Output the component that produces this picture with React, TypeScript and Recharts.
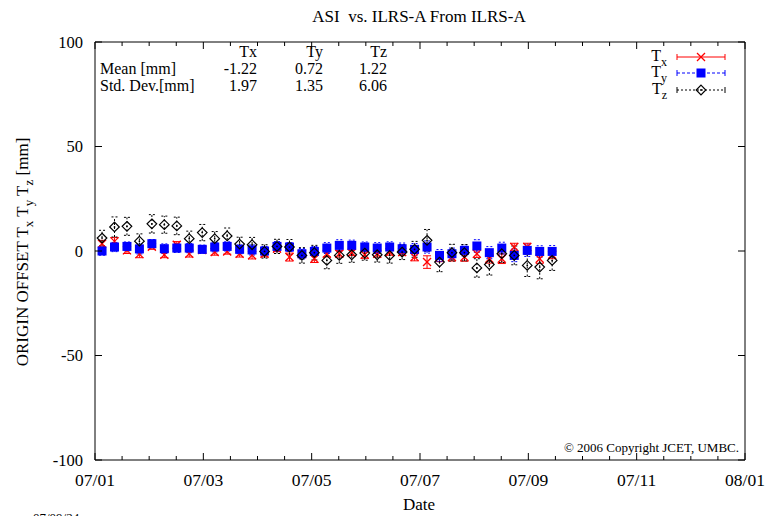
import React from 'react';
import {
    ComposedChart,
    Scatter,
    XAxis,
    YAxis,
    ErrorBar,
    ReferenceArea,
} from 'recharts';

const FONT = '"Liberation Serif", "Times New Roman", serif';

// solution epochs, days after 07/01 00:00
const days = [
    0.13, 0.36, 0.59, 0.82, 1.05, 1.28, 1.51, 1.74, 1.98, 2.21, 2.44, 2.67, 2.9,
    3.13, 3.36, 3.59, 3.82, 4.05, 4.28, 4.51, 4.74, 4.98, 5.21, 5.44, 5.67, 5.9,
    6.13, 6.36, 6.59, 6.82, 7.05, 7.28, 7.51, 7.74, 7.98, 8.21, 8.44,
];

const txValues = [
    3.5, 4.6, 0.3, -1.5, 2.0, -1.8, 3.0, -1.3, 0.5, -0.5, -0.2, -1.3, -2.0,
    -1.3, 1.1, -2.9, -1.5, -3.7, -1.3, -1.3, -0.8, -1.8, -1.3, -0.5, -0.5, -2.9,
    -5.3, -2.9, -2.9, -2.9, -1.3, -3.7, -3.7, 1.9, 1.9, -3.7, -1.8,
];
const txErrors = [
    1.6, 1.8, 1.5, 1.7, 1.2, 1.4, 1.5, 1.6, 1.4, 1.5, 1.3, 1.6, 1.8,
    1.5, 1.4, 1.9, 1.6, 1.8, 1.5, 1.6, 1.4, 1.7, 1.6, 1.5, 1.7, 1.8,
    3.0, 2.2, 1.9, 2.0, 1.8, 2.1, 2.3, 1.8, 1.8, 2.2, 1.9,
];

const tyValues = [
    0.0, 1.9, 2.2, 1.0, 3.5, 1.1, 1.4, 1.4, 0.8, 1.9, 2.2, 0.8, 0.5,
    0.0, 2.2, 1.9, -1.3, -0.2, 1.4, 2.7, 2.7, 1.9, 1.4, 1.9, 1.1, 0.8,
    1.9, -2.1, -1.3, 0.3, 2.4, -0.8, 1.4, -2.1, 0.3, -0.2, -0.2,
];
const tyErrors = [
    2.0, 2.2, 2.1, 2.4, 2.0, 2.3, 2.1, 2.2, 2.0, 2.3, 2.2, 2.1, 2.4,
    2.2, 2.3, 2.1, 2.5, 2.4, 2.6, 2.7, 2.5, 2.4, 2.6, 2.5, 2.7, 2.8,
    2.9, 2.8, 2.7, 2.6, 3.0, 2.9, 2.8, 3.0, 2.9, 2.7, 2.8,
];

const tzValues = [
    6.2, 11.5, 11.8, 4.7, 13.0, 12.6, 12.0, 5.9, 8.8, 5.9, 7.2, 3.3, 3.0,
    -0.2, 2.2, 1.9, -2.1, -0.8, -4.5, -2.1, -1.8, -1.0, -1.8, -2.1, -0.5, 0.8,
    5.1, -5.3, -0.8, -0.8, -8.1, -6.5, -1.3, -2.1, -6.9, -7.7, -4.5,
];
const tzErrors = [
    3.7, 4.8, 4.3, 3.5, 4.4, 4.1, 4.2, 3.6, 3.9, 3.4, 3.8, 3.3, 3.5,
    3.2, 3.4, 3.6, 3.7, 3.5, 4.0, 3.8, 3.6, 3.4, 3.5, 3.7, 3.6, 3.8,
    5.2, 4.6, 4.0, 3.9, 4.4, 5.0, 4.2, 4.5, 5.3, 5.6, 4.8,
];

const xTicks = [
    0, 0.5, 1, 1.5, 2, 2.5, 3, 3.5, 4, 4.5, 5, 5.5, 6, 6.5, 7, 7.5, 8, 8.5, 9,
    9.5, 10, 10.5, 11, 11.5, 12,
];
const majorDays = [0, 2, 4, 6, 8, 10, 12];
const majorLabels = ['07/01', '07/03', '07/05', '07/07', '07/09', '07/11', '08/01'];
const yTicks = [-100, -50, 0, 50, 100];

const statHeaders = ['Tx', 'Ty', 'Tz'];
const meanValues = ['-1.22', '0.72', '1.22'];
const stdValues = ['1.97', '1.35', '6.06'];

const WIDTH = 772;
const HEIGHT = 516;
const PLOT_LEFT = 95;
const PLOT_RIGHT = 745;
const PLOT_TOP = 42;
const PLOT_BOTTOM = 460;

const toPoints = (vals: number[], errs: number[]) =>
    days.map((d, i) => ({ x: d, y: vals[i], err: errs[i] }));

const txPoints = toPoints(txValues, txErrors);
const tyPoints = toPoints(tyValues, tyErrors);
const tzPoints = toPoints(tzValues, tzErrors);

const drawCross = (cx: number, cy: number) => (
    <g>
        <line x1={cx - 4} y1={cy - 4} x2={cx + 4} y2={cy + 4} stroke="#ff0000" strokeWidth={1.3} />
        <line x1={cx - 4} y1={cy + 4} x2={cx + 4} y2={cy - 4} stroke="#ff0000" strokeWidth={1.3} />
    </g>
);

const drawSquare = (cx: number, cy: number) => (
    <rect x={cx - 4.5} y={cy - 4.5} width={9} height={9} fill="#0000ff" />
);

const drawDiamond = (cx: number, cy: number) => (
    <g>
        <path
            d={`M${cx},${cy - 4.8}L${cx + 4.8},${cy}L${cx},${cy + 4.8}L${cx - 4.8},${cy}Z`}
            fill="none"
            stroke="#000"
            strokeWidth={1.2}
        />
        <circle cx={cx} cy={cy} r={0.9} fill="#000" />
    </g>
);

const XTick = (props: any) => {
    const { x, y, payload } = props;
    const idx = majorDays.indexOf(payload.value);
    const len = idx >= 0 ? 7 : 4;
    return (
        <g>
            <line x1={x} y1={y} x2={x} y2={y - len} stroke="#000" />
            <line x1={x} y1={PLOT_TOP} x2={x} y2={PLOT_TOP + len} stroke="#000" />
            {idx >= 0 && (
                <text x={x} y={y + 26} textAnchor="middle" fontFamily={FONT} fontSize={17.5} fill="#000">
                    {majorLabels[idx]}
                </text>
            )}
        </g>
    );
};

const YTick = (props: any) => {
    const { x, y, payload } = props;
    return (
        <g>
            <line x1={x} y1={y} x2={x + 7} y2={y} stroke="#000" />
            <line x1={PLOT_RIGHT} y1={y} x2={PLOT_RIGHT - 7} y2={y} stroke="#000" />
            <text x={x - 12} y={y + 5.5} textAnchor="end" fontFamily={FONT} fontSize={16.5} fill="#000">
                {payload.value}
            </text>
        </g>
    );
};

const LegendRow = (props: { y: number; sub: string; color: string; dash?: string; marker: (cx: number, cy: number) => React.ReactNode }) => {
    const { y, sub, color, dash, marker } = props;
    return (
        <g>
            <text x={667} y={y + 4} textAnchor="end" fontFamily={FONT} fontSize={16} fill="#000">
                T<tspan fontSize={12} dy={5}>{sub}</tspan>
            </text>
            <line x1={677} y1={y} x2={725} y2={y} stroke={color} strokeDasharray={dash} />
            <line x1={677} y1={y - 3} x2={677} y2={y + 3} stroke={color} />
            <line x1={725} y1={y - 3} x2={725} y2={y + 3} stroke={color} />
            {marker(701, y)}
        </g>
    );
};

const App = () => {
    const colX = [257, 323, 387];
    return (
        <div style={{ position: 'absolute', left: 0, top: 0, width: WIDTH, height: HEIGHT, background: '#fff' }}>
            <ComposedChart
                width={WIDTH}
                height={HEIGHT}
                margin={{ top: PLOT_TOP, right: WIDTH - PLOT_RIGHT, bottom: 0, left: 0 }}
            >
                <XAxis
                    dataKey="x"
                    type="number"
                    domain={[0, 12]}
                    ticks={xTicks}
                    interval={0}
                    height={HEIGHT - PLOT_BOTTOM}
                    tickSize={0}
                    tickMargin={0}
                    tickLine={false}
                    axisLine={false}
                    tick={<XTick />}
                    allowDataOverflow
                />
                <YAxis
                    dataKey="y"
                    type="number"
                    domain={[-100, 100]}
                    ticks={yTicks}
                    interval={0}
                    width={PLOT_LEFT}
                    tickSize={0}
                    tickMargin={0}
                    tickLine={false}
                    axisLine={false}
                    tick={<YTick />}
                    allowDataOverflow
                />
                <ReferenceArea
                    x1={0}
                    x2={12}
                    y1={-100}
                    y2={100}
                    fill="none"
                    stroke="#000"
                    strokeWidth={1}
                    fillOpacity={0}
                />
                <Scatter
                    data={txPoints}
                    isAnimationActive={false}
                    shape={(p: any) => drawCross(p.cx, p.cy)}
                >
                    <ErrorBar dataKey="err" direction="y" width={4} stroke="#ff0000" strokeWidth={1} isAnimationActive={false} />
                </Scatter>
                <Scatter
                    data={tyPoints}
                    isAnimationActive={false}
                    shape={(p: any) => drawSquare(p.cx, p.cy)}
                >
                    <ErrorBar dataKey="err" direction="y" width={3} stroke="#0000ff" strokeWidth={1} strokeDasharray="2 2" isAnimationActive={false} />
                </Scatter>
                <Scatter
                    data={tzPoints}
                    isAnimationActive={false}
                    shape={(p: any) => drawDiamond(p.cx, p.cy)}
                >
                    <ErrorBar dataKey="err" direction="y" width={3} stroke="#000" strokeWidth={1} strokeDasharray="2 2" isAnimationActive={false} />
                </Scatter>
            </ComposedChart>
            <svg
                width={WIDTH}
                height={HEIGHT}
                style={{ position: 'absolute', left: 0, top: 0, pointerEvents: 'none' }}
                fontFamily={FONT}
            >
                <text x={419} y={22} textAnchor="middle" fontSize={17} style={{ whiteSpace: 'pre' }}>
                    ASI  vs. ILRS-A From ILRS-A
                </text>
                {statHeaders.map((h, i) => (
                    <text key={h} x={colX[i]} y={57} textAnchor="end" fontSize={16}>{h}</text>
                ))}
                <text x={100} y={74} fontSize={16}>Mean [mm]</text>
                {meanValues.map((v, i) => (
                    <text key={'m' + i} x={colX[i]} y={74} textAnchor="end" fontSize={16}>{v}</text>
                ))}
                <text x={100} y={91} fontSize={16}>Std. Dev.[mm]</text>
                {stdValues.map((v, i) => (
                    <text key={'s' + i} x={colX[i]} y={91} textAnchor="end" fontSize={16}>{v}</text>
                ))}
                <LegendRow y={57} sub="x" color="#ff0000" marker={drawCross} />
                <LegendRow y={73} sub="y" color="#0000ff" dash="3 2" marker={drawSquare} />
                <LegendRow y={90} sub="z" color="#000" dash="2 2" marker={drawDiamond} />
                <text x={739} y={452} textAnchor="end" fontSize={13}>
                    ©  2006 Copyright JCET, UMBC.
                </text>
                <text x={419} y={510} textAnchor="middle" fontSize={17}>Date</text>
                <text transform="translate(28,252) rotate(-90)" textAnchor="middle" fontSize={17}>
                    ORIGIN OFFSET T<tspan fontSize={13} dy={5}>x</tspan>
                    <tspan dy={-5}> T</tspan><tspan fontSize={13} dy={5}>y</tspan>
                    <tspan dy={-5}> T</tspan><tspan fontSize={13} dy={5}>z</tspan>
                    <tspan dy={-5}> [mm]</tspan>
                </text>
                <text x={33} y={522} fontSize={13}>07/09/24</text>
            </svg>
        </div>
    );
};

export default App;
